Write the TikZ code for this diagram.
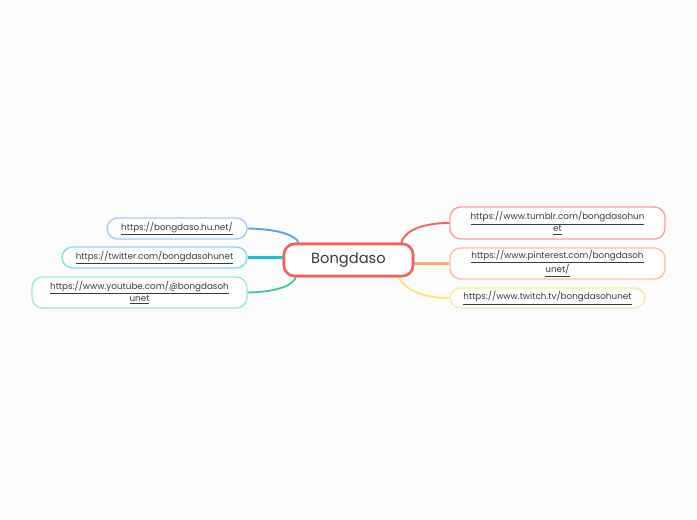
\documentclass[tikz,border=0pt]{standalone}
\usepackage{fontspec}
\setmainfont{Poppins}
\usepackage{xcolor}
\usetikzlibrary{positioning, calc}

\definecolor{bgcol}{HTML}{FCFCFC}
\definecolor{txtcol}{HTML}{3A3A3A}
\definecolor{rootcol}{HTML}{F0645C}
\definecolor{bluecol}{HTML}{4DA8F0}
\definecolor{bluebox}{HTML}{A3CEF5}
\definecolor{tealline}{HTML}{1DBFD3}
\definecolor{cyanbox}{HTML}{80DFE9}
\definecolor{mintcol}{HTML}{3ECC9B}
\definecolor{mintbox}{HTML}{A0E9D2}
\definecolor{redcol}{HTML}{F0645C}
\definecolor{redbox}{HTML}{F7A3A0}
\definecolor{peachline}{HTML}{FFAA74}
\definecolor{orgbox}{HTML}{FDC29C}
\definecolor{yelcol}{HTML}{F8E672}
\definecolor{yelbox}{HTML}{FAEC9C}

\tikzset{
  rootbox/.style={draw=rootcol, line width=1.9pt, rounded corners=8pt, fill=white,
    minimum width=96.75pt, minimum height=24pt, inner sep=0pt,
    font=\fontsize{11pt}{13pt}\selectfont, text=txtcol},
  linkbox/.style={draw=#1, line width=1.1pt, rounded corners=8pt, fill=white,
    minimum height=15.75pt, inner sep=0pt, align=center,
    font=\fontsize{6.6pt}{7.6pt}\selectfont, text=txtcol},
  branch/.style={draw=#1, line width=1.4pt}
}
\newcommand{\lnk}[1]{\underline{#1}}

\begin{document}
\begin{tikzpicture}[x=0.75pt, y=-0.75pt]
    % Background
    \fill[bgcol] (0,0) rectangle (697,520);
    \useasboundingbox (0,0) rectangle (697,520);

    % Central topic
    \node[rootbox] (root) at (348.5,260) {Bongdaso};

    % Left branches
    \node[linkbox=bluebox, minimum width=105pt] (bongdaso) at (177,228.5)
        {\lnk{https://bongdaso.hu.net/}};
    \node[linkbox=cyanbox, minimum width=138.75pt] (twitter) at (154.5,257.5)
        {\lnk{https://twitter.com/bongdasohunet}};
    \node[linkbox=mintbox, minimum width=161.25pt, minimum height=23.25pt] (youtube) at (139.5,292.5)
        {\lnk{https://www.youtube.com/@bongdasoh}\\\lnk{unet}};

    % Right branches
    \node[linkbox=redbox, minimum width=161.25pt, minimum height=24pt] (tumblr) at (557.5,223)
        {\lnk{https://www.tumblr.com/bongdasohun}\\\lnk{et}};
    \node[linkbox=orgbox, minimum width=161.25pt, minimum height=23.25pt] (pinterest) at (557.5,263.5)
        {\lnk{https://www.pinterest.com/bongdasoh}\\\lnk{unet/}};
    \node[linkbox=yelbox, minimum width=146.25pt, minimum height=15pt] (twitch) at (547.5,298)
        {\lnk{https://www.twitch.tv/bongdasohunet}};

    % Connectors
    \coordinate (rootNW) at ($(root.north west)+(16,0)$);
    \coordinate (rootSW) at ($(root.south west)+(13,0)$);
    \coordinate (rootNE) at ($(root.north east)+(-13,0)$);
    \coordinate (rootSE) at ($(root.south east)+(-16,0)$);
    \coordinate (rootW) at ($(root.west)+(0,-2.5)$);
    \coordinate (rootE) at ($(root.east)+(0,3.5)$);

    \draw[branch=bluecol] (bongdaso.east) .. controls (280,229) and (296,236) .. (rootNW);
    \draw[branch=tealline, line width=1.7pt] (twitter.east) -- (rootW);
    \draw[branch=mintcol] (youtube.east) .. controls (280,292) and (294,284) .. (rootSW);
    \draw[branch=redcol] (rootNE) .. controls (404,232) and (420,223) .. (tumblr.west);
    \draw[branch=peachline, line width=1.7pt] (rootE) -- (pinterest.west);
    \draw[branch=yelcol] (rootSE) .. controls (404,288) and (420,298) .. (twitch.west);

    % redraw boxes above the connector ends
    \node[rootbox] at (root) {Bongdaso};
\end{tikzpicture}
\end{document}
